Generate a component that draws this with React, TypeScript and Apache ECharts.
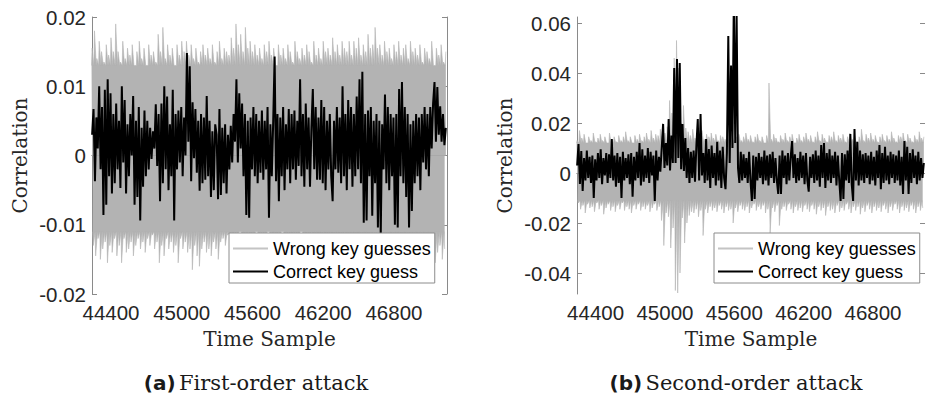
import React, { useEffect, useRef } from 'react';
import * as echarts from 'echarts';

// ---- sample axis ----
const SAMPLE_START = 44240;
const SAMPLE_MIN = 44239;
const SAMPLE_MAX = 47250;
const CORRECT_STEP = 12;
const WRONG_STEP = 10;

// ---- tick labels ----
const X_TICKS = [44400, 45000, 45600, 46200, 46800];
const Y_TICKS_A = [-0.02, -0.01, 0, 0.01, 0.02];
const Y_TICKS_B = [-0.04, -0.02, 0, 0.02, 0.04, 0.06];
const Y_RANGE_A = [-0.02, 0.02];
const Y_RANGE_B = [-0.0484, 0.0624];

const LEGEND_NAMES = ['Wrong key guesses', 'Correct key guess'];
const CAPTION_A = ['(a)', 'First-order attack'];
const CAPTION_B = ['(b)', 'Second-order attack'];

// ---- level down to which the wrong-key curves overlap densely [lower, upper] ----
const WRONG_CORE_A = [-0.011, 0.013];
const WRONG_CORE_B = [-0.011, 0.012];

// ---- (a) first-order attack: correct key guess ----
const correctA = [
  0.003, 0.0067, -0.0037, 0.0055, 0.001, 0.010, -0.002, 0.007, -0.0086, 0.0095,
  -0.0071, 0.011, -0.003, 0.009, -0.0055, 0.006, -0.004, 0.0075, -0.002, 0.005,
  -0.0047, 0.010, -0.001, 0.008, -0.0055, 0.0045, -0.003, 0.006, 0.0, 0.0086,
  -0.0071, 0.005, -0.006, 0.007, -0.0094, 0.004, -0.0045, 0.0065, -0.003, 0.005,
  -0.002, 0.004, -0.0005, 0.0035, 0.001, 0.0074, -0.0015, 0.006, -0.0066, 0.0075,
  -0.004, 0.010, -0.002, 0.0085, -0.005, 0.0045, -0.003, 0.0095, -0.0094, 0.006,
  -0.002, 0.0065, -0.001, 0.007, -0.003, 0.0055, 0.0, 0.0148, 0.002, 0.0129,
  -0.0037, 0.0077, -0.0004, 0.0067, -0.0025, 0.005, -0.0051, 0.006, -0.004, 0.0055,
  -0.0035, 0.0086, -0.003, 0.005, -0.006, 0.0035, -0.005, 0.0045, 0.003, -0.0063,
  0.0067, -0.0057, 0.004, -0.004, 0.0045, -0.0055, 0.003, -0.002, 0.0043, -0.001,
  0.006, 0.002, 0.011, -0.001, 0.009, 0.001, 0.0075, -0.003, 0.006, -0.0086,
  0.005, -0.009, 0.0055, -0.002, 0.007, -0.003, 0.006, -0.004, 0.005, -0.0025,
  0.0065, -0.0035, 0.005, -0.002, 0.007, -0.009, 0.0045, -0.003, 0.005, 0.0143,
  -0.0037, 0.006, -0.0066, 0.0055, -0.003, 0.007, -0.005, 0.0045, -0.002, 0.0067,
  -0.004, 0.006, -0.002, 0.0065, -0.0035, 0.005, -0.0015, 0.011, -0.003, 0.006,
  -0.0045, 0.0075, -0.002, 0.0055, -0.0045, 0.004, 0.0096, -0.002, 0.007, -0.0035,
  0.0055, -0.0035, 0.008, -0.004, 0.007, -0.005, 0.005, -0.002, 0.006, -0.003,
  -0.0066, 0.005, -0.002, 0.007, -0.0025, 0.0055, -0.004, 0.010, -0.003, 0.006,
  -0.005, 0.008, -0.002, 0.007, -0.0045, 0.006, -0.003, 0.0085, -0.002, 0.011,
  -0.004, 0.0121, -0.0097, 0.006, -0.0094, 0.0065, -0.003, 0.007, -0.0087, 0.005,
  -0.004, 0.006, -0.0104, 0.005, -0.0114, 0.0045, -0.002, 0.0088, -0.004, 0.007,
  -0.005, 0.006, -0.003, 0.0055, -0.010, 0.006, -0.0104, 0.0096, -0.003, 0.0106,
  -0.004, 0.007, -0.006, 0.006, -0.0104, 0.0045, -0.008, 0.005, -0.004, 0.006,
  -0.003, 0.0055, -0.005, 0.006, -0.001, 0.007, -0.002, 0.006, -0.003, 0.007,
  0.001, 0.0075, 0.0106, 0.002, 0.0099, 0.003, 0.0071, 0.002, 0.006, 0.0015, 0.004,
];

// ---- (a) wrong key guesses: upper / lower extremes ----
const wrongUpperA = [
  0.0155, 0.018, 0.014, 0.0165, 0.015, 0.0135, 0.016, 0.0145, 0.017, 0.0150,
  0.019, 0.015, 0.0135, 0.0165, 0.014, 0.0155, 0.0145, 0.016, 0.013, 0.015,
  0.0165, 0.014, 0.0155, 0.013, 0.016, 0.0145, 0.015, 0.0135, 0.0175, 0.015,
  0.0185, 0.014, 0.016, 0.0145, 0.0155, 0.013, 0.016, 0.0145, 0.0165, 0.015,
  0.0165, 0.0145, 0.016, 0.014, 0.0155, 0.0135, 0.015, 0.016, 0.0145, 0.0155,
  0.014, 0.016, 0.0135, 0.015, 0.0165, 0.014, 0.0155, 0.015, 0.0145, 0.017,
  0.0155, 0.019, 0.016, 0.0175, 0.015, 0.0185, 0.0155, 0.0165, 0.015, 0.016,
  0.0145, 0.0155, 0.014, 0.016, 0.015, 0.0165, 0.0145, 0.0155, 0.013, 0.016,
  0.0145, 0.0155, 0.014, 0.016, 0.015, 0.0135, 0.0165, 0.015, 0.014, 0.0155,
  0.0145, 0.016, 0.015, 0.0135, 0.0165, 0.0145, 0.0155, 0.014, 0.0165, 0.015,
  0.0155, 0.0145, 0.017, 0.015, 0.016, 0.0145, 0.0165, 0.0155, 0.015, 0.0165,
  0.0145, 0.0165, 0.0155, 0.017, 0.0145, 0.016, 0.015, 0.0175, 0.0155, 0.016,
  0.0185, 0.0155, 0.016, 0.0145, 0.0165, 0.015, 0.0155, 0.014, 0.016, 0.015,
  0.0165, 0.0145, 0.0155, 0.016, 0.014, 0.0165, 0.015, 0.0155, 0.0145, 0.016,
  0.0135, 0.0155, 0.015, 0.014, 0.0165, 0.013, 0.0155, 0.0145, 0.016, 0.0135, 0.015,
];
const wrongLowerA = [
  -0.013, -0.0145, -0.012, -0.015, -0.0135, -0.0125, -0.0155, -0.013, -0.014, -0.012,
  -0.0145, -0.013, -0.0155, -0.012, -0.014, -0.0135, -0.0125, -0.0145, -0.013, -0.012,
  -0.0135, -0.0125, -0.014, -0.012, -0.013, -0.0115, -0.0135, -0.0125, -0.0155, -0.013,
  -0.0145, -0.012, -0.0135, -0.0125, -0.014, -0.013, -0.0155, -0.012, -0.0135, -0.0125,
  -0.014, -0.0135, -0.0165, -0.013, -0.0145, -0.016, -0.0135, -0.0125, -0.014, -0.0135,
  -0.0145, -0.0125, -0.0135, -0.015, -0.0125, -0.012, -0.013, -0.0115, -0.0125, -0.012,
  -0.0115, -0.013, -0.011, -0.0125, -0.012, -0.0115, -0.013, -0.012, -0.0125, -0.011,
  -0.0125, -0.0115, -0.012, -0.013, -0.011, -0.0125, -0.012, -0.0135, -0.0115, -0.012,
  -0.011, -0.0125, -0.0115, -0.012, -0.013, -0.0115, -0.0125, -0.012, -0.011, -0.013,
  -0.012, -0.0125, -0.0115, -0.013, -0.012, -0.0135, -0.0125, -0.0115, -0.013, -0.012,
  -0.0125, -0.013, -0.012, -0.014, -0.0125, -0.013, -0.0115, -0.0135, -0.0125, -0.012,
  -0.013, -0.0125, -0.014, -0.012, -0.0135, -0.0125, -0.013, -0.0145, -0.012, -0.0135,
  -0.0125, -0.013, -0.012, -0.0135, -0.0125, -0.014, -0.013, -0.012, -0.0135, -0.0125,
  -0.013, -0.0145, -0.0125, -0.013, -0.0155, -0.0125, -0.014, -0.013, -0.0135, -0.012,
  -0.014, -0.0155, -0.013, -0.0145, -0.0125, -0.0155, -0.014, -0.013, -0.015, -0.0135,
];

// ---- (b) second-order attack: correct key guess ----
const correctB = [
  0.003, 0.0116, -0.0044, 0.0088, -0.0072, 0.006, -0.003, 0.009, -0.002, 0.0065,
  -0.004, 0.007, -0.010, 0.0055, -0.003, 0.008, -0.002, 0.0095, -0.0045, 0.006,
  -0.001, 0.008, -0.004, 0.0075, -0.002, 0.0136, -0.003, 0.007, -0.0055, 0.008,
  -0.004, 0.0065, -0.010, 0.0085, -0.003, 0.006, -0.002, 0.0075, -0.0045, 0.008,
  -0.0095, 0.0065, -0.003, 0.0085, -0.002, 0.012, -0.005, 0.0095, -0.0035, 0.007,
  -0.002, 0.010, -0.004, 0.0085, -0.001, 0.007, -0.0112, 0.009, -0.003, 0.0065,
  0.0005, 0.010, 0.0196, 0.002, 0.012, 0.003, 0.0216, 0.001, 0.015, 0.004,
  0.042, 0.004, 0.0456, 0.006, 0.044, 0.0015, 0.0196, 0.0008, 0.014, -0.002,
  0.010, -0.004, 0.0085, -0.002, 0.009, -0.0035, 0.011, 0.0216, -0.003, 0.0236,
  -0.001, 0.008, -0.004, 0.0136, -0.003, 0.0096, -0.006, 0.011, -0.002, 0.008,
  -0.005, 0.0125, -0.003, 0.009, -0.006, 0.0105, -0.002, -0.0065, 0.008, 0.0548,
  0.004, 0.043, 0.010, 0.070, 0.012, 0.064, 0.002, -0.004, 0.0085, -0.003,
  0.0075, -0.002, 0.006, -0.004, 0.0085, -0.003, -0.0112, 0.007, -0.0104, 0.0065,
  -0.003, 0.008, -0.002, 0.0065, -0.0045, 0.009, -0.003, 0.007, -0.005, 0.0075,
  -0.002, 0.0085, -0.004, 0.006, -0.003, -0.0084, 0.007, -0.0084, 0.009, -0.002,
  0.007, -0.0045, 0.008, -0.003, 0.0065, 0.0128, -0.002, 0.0075, -0.004, 0.006,
  -0.003, 0.0085, -0.002, 0.007, -0.0045, 0.008, -0.003, -0.0075, 0.0065, -0.002,
  0.0075, -0.004, 0.009, -0.003, 0.007, -0.0055, 0.0112, -0.002, 0.012, -0.006,
  0.008, -0.003, 0.0095, -0.004, 0.007, -0.002, 0.0085, -0.005, 0.007, -0.003,
  -0.0112, 0.008, -0.0104, 0.0075, -0.003, 0.009, -0.004, 0.0156, -0.0045, -0.0112,
  0.0176, -0.003, 0.0125, -0.005, 0.009, -0.003, 0.0075, -0.004, 0.008, -0.002,
  0.007, -0.0045, 0.0085, -0.003, 0.0065, -0.005, 0.009, -0.002, 0.0112, -0.0065,
  0.008, -0.004, 0.0105, -0.003, 0.007, -0.0045, 0.0085, -0.002, 0.0075, -0.004,
  0.007, -0.003, 0.009, -0.005, 0.0065, -0.0084, 0.0128, -0.003, 0.0105, -0.0084,
  0.008, -0.004, 0.0095, -0.002, 0.007, -0.0045, 0.0085, -0.003, 0.006, -0.002, 0.004,
];

// ---- (b) wrong key guesses: upper / lower extremes ----
const wrongUpperB = [
  0.013, 0.017, 0.014, 0.0155, 0.012, 0.0145, 0.013, 0.016, 0.0125, 0.014,
  0.0155, 0.013, 0.0145, 0.012, 0.016, 0.0135, 0.0145, 0.0125, 0.015, 0.013,
  0.0145, 0.0165, 0.013, 0.0145, 0.012, 0.015, 0.0135, 0.0155, 0.013, 0.0145,
  0.016, 0.0135, 0.017, 0.014, 0.0155, 0.015, 0.0175, 0.020, 0.016, 0.0185,
  0.029, 0.024, 0.046, 0.053, 0.042, 0.020, 0.027, 0.018, 0.0165, 0.015,
  0.0175, 0.014, 0.016, 0.0145, 0.017, 0.0135, 0.0155, 0.0145, 0.016, 0.014,
  0.0155, 0.013, 0.015, 0.0145, 0.0135, 0.015, 0.014, 0.016, 0.013, 0.0145,
  0.0155, 0.013, 0.0145, 0.016, 0.0135, 0.015, 0.0125, 0.0145, 0.0155, 0.013,
  0.0145, 0.012, 0.015, 0.036, 0.0135, 0.0155, 0.014, 0.0125, 0.015, 0.0135,
  0.016, 0.013, 0.0145, 0.0155, 0.012, 0.014, 0.0155, 0.013, 0.0145, 0.016,
  0.0135, 0.015, 0.0125, 0.0145, 0.0165, 0.013, 0.0155, 0.014, 0.0125, 0.015,
  0.0145, 0.0165, 0.013, 0.015, 0.014, 0.0155, 0.0125, 0.0145, 0.016, 0.0135,
  0.015, 0.0125, 0.0145, 0.0175, 0.013, 0.0155, 0.014, 0.016, 0.0135, 0.015,
  0.0125, 0.0145, 0.0155, 0.013, 0.015, 0.0135, 0.0165, 0.014, 0.0125, 0.015,
  0.0145, 0.016, 0.013, 0.0155, 0.014, 0.0125, 0.015, 0.0135, 0.0165, 0.014, 0.0145,
];
const wrongLowerB = [
  -0.012, -0.0145, -0.013, -0.016, -0.0125, -0.014, -0.0135, -0.0155, -0.012, -0.0145,
  -0.013, -0.0165, -0.014, -0.0125, -0.015, -0.0135, -0.0155, -0.013, -0.0145, -0.012,
  -0.015, -0.0135, -0.0145, -0.016, -0.013, -0.0145, -0.0125, -0.015, -0.0135, -0.0145,
  -0.013, -0.0155, -0.014, -0.0125, -0.015, -0.0135, -0.019, -0.029, -0.016, -0.0175,
  -0.030, -0.022, -0.047, -0.048, -0.040, -0.018, -0.028, -0.020, -0.017, -0.0155,
  -0.016, -0.0145, -0.0175, -0.015, -0.025, -0.0145, -0.016, -0.0135, -0.015, -0.014,
  -0.0155, -0.013, -0.0145, -0.016, -0.0135, -0.015, -0.0145, -0.020, -0.014, -0.0155,
  -0.013, -0.0145, -0.015, -0.0135, -0.016, -0.014, -0.0125, -0.015, -0.0135, -0.0145,
  -0.013, -0.016, -0.0145, -0.024, -0.014, -0.0155, -0.013, -0.021, -0.0145, -0.0135,
  -0.015, -0.0125, -0.0145, -0.016, -0.0135, -0.015, -0.014, -0.0155, -0.013, -0.0145,
  -0.0155, -0.013, -0.0145, -0.0165, -0.0135, -0.015, -0.014, -0.017, -0.0135, -0.015,
  -0.0145, -0.016, -0.013, -0.0155, -0.014, -0.015, -0.0125, -0.0145, -0.016, -0.0135,
  -0.015, -0.0135, -0.0165, -0.014, -0.0155, -0.013, -0.0145, -0.016, -0.0135, -0.015,
  -0.014, -0.0155, -0.013, -0.0145, -0.016, -0.0135, -0.015, -0.0125, -0.0145, -0.016,
  -0.0135, -0.015, -0.014, -0.0155, -0.013, -0.0145, -0.016, -0.0135, -0.015, -0.014,
];

// ---- helpers that pair values with their time sample ----
function toPoints(values: number[], step: number) {
  return values.map((v, i) => [SAMPLE_START + i * step, v]);
}
// each extreme is a thin spike rising from the dense core of the wrong-key curves
function spikePoints(values: number[], core: number, offset: number) {
  const out: number[][] = [];
  const period = 2 * WRONG_STEP;
  values.forEach((v, j) => {
    const x = SAMPLE_START + offset + j * period;
    out.push([x - WRONG_STEP / 2, core]);
    out.push([x, v]);
  });
  return out;
}

const AXIS_COLOR = '#8a8a8a';
const LABEL_COLOR = '#262626';
const GRAY = '#b3b3b3';
const SANS = 'Liberation Sans, Arial, sans-serif';
const SERIF = 'DejaVu Serif, serif';

function fmt(v: number) {
  return String(Math.round(v * 1000) / 1000);
}

function xAxes(gridIndex: number) {
  return [
    {
      gridIndex,
      type: 'value',
      position: 'bottom',
      min: SAMPLE_MIN,
      max: SAMPLE_MAX,
      axisLine: { show: true, lineStyle: { color: AXIS_COLOR, width: 1 } },
      axisTick: { show: true, inside: true, length: 5, customValues: X_TICKS, lineStyle: { color: AXIS_COLOR } },
      axisLabel: {
        show: true,
        customValues: X_TICKS,
        formatter: (v: number) => String(v),
        fontFamily: SANS,
        fontSize: 20.5,
        color: LABEL_COLOR,
        margin: 8,
      },
      splitLine: { show: false },
      name: 'Time Sample',
      nameLocation: 'middle',
      nameGap: 35,
      nameTextStyle: { fontFamily: SERIF, fontSize: 20, color: LABEL_COLOR },
    },
    {
      gridIndex,
      type: 'value',
      position: 'top',
      min: SAMPLE_MIN,
      max: SAMPLE_MAX,
      axisLine: { show: true, lineStyle: { color: AXIS_COLOR, width: 1 } },
      axisTick: { show: true, inside: true, length: 5, customValues: X_TICKS, lineStyle: { color: AXIS_COLOR } },
      axisLabel: { show: false },
      splitLine: { show: false },
    },
  ];
}

function yAxes(gridIndex: number, range: number[], ticks: number[]) {
  return [
    {
      gridIndex,
      type: 'value',
      position: 'left',
      min: range[0],
      max: range[1],
      axisLine: { show: true, lineStyle: { color: AXIS_COLOR, width: 1 } },
      axisTick: { show: true, inside: true, length: 5, customValues: ticks, lineStyle: { color: AXIS_COLOR } },
      axisLabel: {
        show: true,
        customValues: ticks,
        formatter: fmt,
        fontFamily: SANS,
        fontSize: 20.5,
        color: LABEL_COLOR,
        margin: 6,
      },
      splitLine: { show: false },
      name: 'Correlation',
      nameLocation: 'middle',
      nameGap: 62,
      nameRotate: 90,
      nameTextStyle: { fontFamily: SERIF, fontSize: 20, color: LABEL_COLOR },
    },
    {
      gridIndex,
      type: 'value',
      position: 'right',
      min: range[0],
      max: range[1],
      axisLine: { show: true, lineStyle: { color: AXIS_COLOR, width: 1 } },
      axisTick: { show: true, inside: true, length: 5, customValues: ticks, lineStyle: { color: AXIS_COLOR } },
      axisLabel: { show: false },
      splitLine: { show: false },
    },
  ];
}

function legend(left: number) {
  return {
    left,
    top: 233,
    orient: 'vertical',
    backgroundColor: '#ffffff',
    borderColor: '#8c8c8c',
    borderWidth: 1,
    borderRadius: 0,
    padding: [4, 4, 0, 4],
    itemWidth: 35,
    itemHeight: 2,
    itemGap: 0,
    itemTextGap: 2,
    selectedMode: false,
    z: 20,
    textStyle: { fontFamily: SANS, fontSize: 18, color: '#000', lineHeight: 23 },
    data: [
      { name: LEGEND_NAMES[0], icon: 'rect', itemStyle: { color: '#c4c4c4' } },
      { name: LEGEND_NAMES[1], icon: 'rect', itemStyle: { color: '#000000' } },
    ],
  };
}

function caption(x: number, parts: string[]) {
  return {
    type: 'text',
    x,
    y: 383,
    style: {
      text: '{b|' + parts[0] + '} {s|' + parts[1] + '}',
      align: 'center',
      verticalAlign: 'middle',
      rich: {
        b: { fontFamily: 'DejaVu Sans, sans-serif', fontWeight: 'bold', fontSize: 20, fill: '#1a1a1a' },
        s: { fontFamily: SERIF, fontSize: 21, fill: '#1a1a1a' },
      },
    },
  };
}

function wrongSeries(axisIndex: number, upper: number[], lower: number[], core: number[]) {
  // all wrong-key curves: spikes above / below their dense core, filled to the zero line
  const common = {
    type: 'line',
    name: LEGEND_NAMES[0],
    xAxisIndex: axisIndex,
    yAxisIndex: axisIndex,
    symbol: 'none',
    silent: true,
    lineStyle: { color: GRAY, width: 0.6 },
    itemStyle: { color: GRAY },
    areaStyle: { color: GRAY, opacity: 1 },
    z: 2,
  };
  return [
    { ...common, data: spikePoints(upper, core[1], 0) },
    { ...common, data: spikePoints(lower, core[0], WRONG_STEP) },
  ];
}

function correctSeries(axisIndex: number, values: number[]) {
  return {
    type: 'line',
    name: LEGEND_NAMES[1],
    xAxisIndex: axisIndex,
    yAxisIndex: axisIndex,
    data: toPoints(values, CORRECT_STEP),
    symbol: 'none',
    silent: true,
    lineStyle: { color: '#000000', width: 2 },
    itemStyle: { color: '#000000' },
    z: 3,
  };
}

export default function App() {
  const ref = useRef<HTMLDivElement>(null);

  useEffect(() => {
    if (!ref.current) return;
    const chart = echarts.init(ref.current, undefined, { renderer: 'svg' });

    const option: any = {
      animation: false,
      backgroundColor: '#ffffff',
      grid: [
        { left: 92, top: 17, width: 355, height: 277 },
        { left: 577, top: 17, width: 354, height: 277 },
      ],
      xAxis: [...xAxes(0), ...xAxes(1)],
      yAxis: [...yAxes(0, Y_RANGE_A, Y_TICKS_A), ...yAxes(1, Y_RANGE_B, Y_TICKS_B)],
      legend: [legend(229), legend(714)],
      series: [
        ...wrongSeries(0, wrongUpperA, wrongLowerA, WRONG_CORE_A),
        correctSeries(0, correctA),
        ...wrongSeries(2, wrongUpperB, wrongLowerB, WRONG_CORE_B),
        correctSeries(2, correctB),
      ],
      graphic: [caption(256, CAPTION_A), caption(736, CAPTION_B)],
    };

    chart.setOption(option);
    return () => {
      chart.dispose();
    };
  }, []);

  return (
    <div
      ref={ref}
      style={{ position: 'fixed', left: 0, top: 0, width: 925, height: 398, background: '#fff' }}
    />
  );
}
